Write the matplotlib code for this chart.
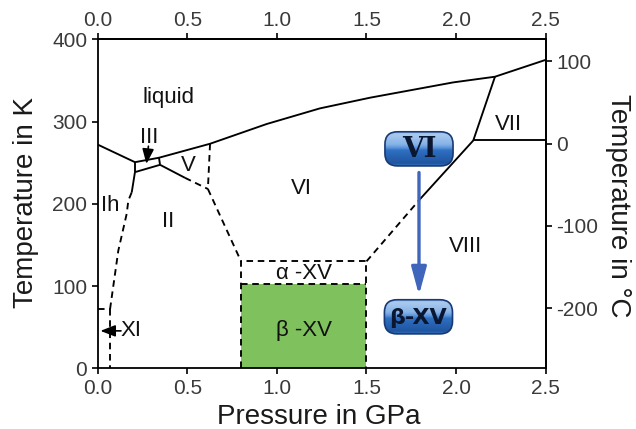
import matplotlib
matplotlib.use("Agg")
import matplotlib.pyplot as plt
import numpy as np
from matplotlib.patches import FancyBboxPatch
from matplotlib.colors import LinearSegmentedColormap

plt.rcParams['font.family'] = ['Liberation Sans', 'DejaVu Sans']
plt.rcParams['axes.unicode_minus'] = False

# ---------------- data (pressure in GPa, temperature in K) ----------------
liquid_P = [0.0, 0.208, 0.342, 0.627, 0.943, 1.24, 1.52, 1.984, 2.217, 2.5]
liquid_T = [272, 250.6, 256, 273, 297, 316, 329, 347.6, 354.5, 375]

ih_iii_P = [0.208, 0.208]
ih_iii_T = [250.6, 238.5]
iii_ii_P = [0.208, 0.348]
iii_ii_T = [238.5, 247.4]
iii_v_P = [0.342, 0.348]
iii_v_T = [256, 247.4]
ii_v_solid_P = [0.348, 0.487]
ii_v_solid_T = [247.4, 231.6]
ih_ii_solid_P = [0.208, 0.19]
ih_ii_solid_T = [238.5, 214]
vi_vii_P = [2.096, 2.217]
vi_vii_T = [277, 354.5]
vii_viii_P = [2.096, 2.5]
vii_viii_T = [277, 277]
vi_viii_solid_P = [1.8, 2.096]
vi_viii_solid_T = [206, 277]

ii_v_dash_P = [0.487, 0.615]
ii_v_dash_T = [231.6, 218]
v_vi_dash_P = [0.627, 0.615]
v_vi_dash_T = [273, 218]
ii_vi_dash_P = [0.615, 0.8]
ii_vi_dash_T = [218, 130]
xv_box_P = [0.8, 0.8, 1.5, 1.5]
xv_box_T = [0, 130, 130, 0]
beta_top_P = [0.8, 1.5]
beta_top_T = [102, 102]
vi_viii_dash_P = [1.5, 1.8]
vi_viii_dash_T = [130, 206]
ih_ii_dash_P = [0.19, 0.171, 0.162, 0.115, 0.069]
ih_ii_dash_T = [214, 204, 188, 143, 72]
xi_h_P = [0.0, 0.069]
xi_h_T = [72, 72]
xi_v_P = [0.069, 0.069]
xi_v_T = [72, 0]

beta_P = [0.8, 1.5]
beta_T = [0, 102]

labels = ['liquid', 'Ih', 'II', 'V', 'VI', 'VII', 'VIII', 'α -XV', 'β -XV']
label_P = [0.394, 0.02, 0.394, 0.506, 1.138, 2.29, 2.05, 1.15, 1.15]
label_T = [329, 198, 178, 246.5, 218, 297, 147.5, 115, 46.5]

badge_text = ['VI', 'β-XV']
badge_P = [1.793, 1.79]
badge_T = [266.8, 62.6]

xticks = [0.0, 0.5, 1.0, 1.5, 2.0, 2.5]
yticks_K = [0, 100, 200, 300, 400]
yticks_C = [100, 0, -100, -200]

# ---------------- figure ----------------
fig = plt.figure(figsize=(6.36, 4.29), dpi=100)
ax = fig.add_axes([0.1536, 0.1415, 0.7044, 0.7669])
ax.set_xlim(0, 2.5)
ax.set_ylim(0, 400)

lw = 1.35
dash = (0, (3.5, 2.5))
kw_s = dict(color='black', lw=lw, solid_capstyle='butt', zorder=3)
kw_d = dict(color='black', lw=lw, linestyle=dash, zorder=3)

# green beta-XV region
ax.fill_between(beta_P, beta_T[0], beta_T[1], color='#7fc15c', zorder=1, lw=0)

for P, T in [(liquid_P, liquid_T), (ih_iii_P, ih_iii_T), (iii_ii_P, iii_ii_T),
             (iii_v_P, iii_v_T), (ii_v_solid_P, ii_v_solid_T),
             (ih_ii_solid_P, ih_ii_solid_T), (vi_vii_P, vi_vii_T),
             (vii_viii_P, vii_viii_T), (vi_viii_solid_P, vi_viii_solid_T)]:
    ax.plot(P, T, **kw_s)

for P, T in [(ii_v_dash_P, ii_v_dash_T), (v_vi_dash_P, v_vi_dash_T),
             (ii_vi_dash_P, ii_vi_dash_T), (xv_box_P, xv_box_T),
             (beta_top_P, beta_top_T), (vi_viii_dash_P, vi_viii_dash_T),
             (ih_ii_dash_P, ih_ii_dash_T), (xi_h_P, xi_h_T), (xi_v_P, xi_v_T)]:
    ax.plot(P, T, **kw_d)

# region labels
for t, p, T in zip(labels, label_P, label_T):
    ha = 'left' if t == 'Ih' else 'center'
    ax.text(p, T, t, fontsize=16, ha=ha, va='center', color='#111111', zorder=4)

# III label with arrow
ax.text(0.29, 280, 'III', fontsize=16, ha='center', va='center', color='#111111')
ax.annotate('', xy=(0.272, 248.5), xytext=(0.283, 270),
            arrowprops=dict(arrowstyle='-|>,head_length=0.9,head_width=0.35',
                            color='black', lw=1.2, mutation_scale=10,
                            shrinkA=0, shrinkB=0))
# XI label with arrow
ax.text(0.13, 46, 'XI', fontsize=16, ha='left', va='center', color='#111111')
ax.annotate('', xy=(0.015, 45.5), xytext=(0.13, 45.5),
            arrowprops=dict(arrowstyle='-|>,head_length=0.9,head_width=0.35',
                            color='black', lw=1.2, mutation_scale=10,
                            shrinkA=0, shrinkB=0))

# blue arrow VI -> beta-XV
ax.annotate('', xy=(1.793, 89), xytext=(1.793, 238),
            arrowprops=dict(arrowstyle='-|>,head_length=2.4,head_width=0.65',
                            color='#3f66bb', lw=2.4, mutation_scale=7,
                            shrinkA=0, shrinkB=0), zorder=5)

# glossy badges
cmap = LinearSegmentedColormap.from_list('badge', [
    (0.0, '#3a72bd'), (0.08, '#1f55a0'), (0.45, '#2f6fc2'),
    (0.52, '#5a93da'), (0.62, '#86b3e8'), (0.9, '#a9c9ef'), (1.0, '#8db8ea')])
bw, bh = 0.38, 41.5
asp = (0.7044 * 636 / 2.5) / (0.7669 * 429 / 400)
fonts = [dict(family='DejaVu Serif', fontsize=20, fontweight='bold'),
         dict(family='DejaVu Sans', fontsize=16, fontweight='bold')]
for t, p, T, f in zip(badge_text, badge_P, badge_T, fonts):
    patch = FancyBboxPatch((p - bw / 2, T - bh / 2), bw, bh,
                           boxstyle='round,pad=0,rounding_size=0.07',
                           mutation_aspect=asp, fc='none', ec='#173a74',
                           lw=1.2, zorder=7)
    ax.add_patch(patch)
    grad = np.linspace(0, 1, 200).reshape(-1, 1)
    im = ax.imshow(grad, extent=(p - bw / 2, p + bw / 2, T - bh / 2, T + bh / 2),
                   cmap=cmap, aspect='auto', origin='lower', zorder=6,
                   interpolation='bilinear')
    im.set_clip_path(patch)
    ax.text(p, T - 1, t, ha='center', va='center', color='#0b1630', zorder=8, **f)

ax.set_xlim(0, 2.5)
ax.set_ylim(0, 400)
ax.set_aspect('auto')

# axes styling
for s in ax.spines.values():
    s.set_linewidth(1.3)
ax.set_xticks(xticks)
ax.set_xticklabels([f'{v:.1f}' for v in xticks])
ax.set_yticks(yticks_K)
ax.tick_params(labelsize=15, labelcolor='#3a3a3a', length=4.5, width=1.2, pad=3)

secx = ax.secondary_xaxis('top')
secx.set_xticks(xticks)
secx.set_xticklabels([f'{v:.1f}' for v in xticks])
secx.tick_params(labelsize=15, labelcolor='#3a3a3a', length=4.5, width=1.2, pad=2)
secx.spines['top'].set_linewidth(1.3)

secy = ax.secondary_yaxis('right', functions=(lambda k: k - 273.15, lambda c: c + 273.15))
secy.set_yticks(yticks_C)
secy.tick_params(labelsize=15, labelcolor='#3a3a3a', length=4.5, width=1.2, pad=3)
secy.spines['right'].set_linewidth(1.3)

fig.text(33 / 636, 1 - 203 / 429, 'Temperature in K', rotation=90, rotation_mode='anchor',
         ha='center', va='baseline', fontsize=20, color='#1a1a1a')
fig.text(611 / 636, 1 - 205.5 / 429, 'Temperature in °C', rotation=270, rotation_mode='anchor',
         ha='center', va='baseline', fontsize=20, color='#1a1a1a')
fig.text(319 / 636, (429 - 424) / 429, 'Pressure in GPa',
         ha='center', va='baseline', fontsize=20, color='#1a1a1a')

fig.savefig('out.png', dpi=100)
